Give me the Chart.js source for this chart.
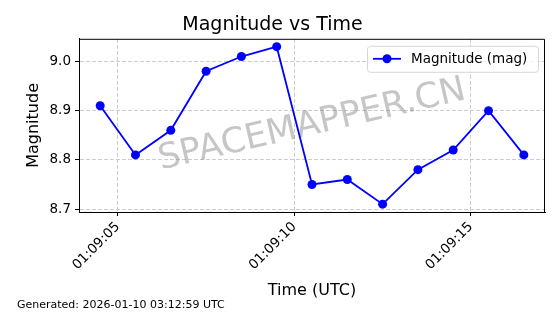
<!DOCTYPE html>
<html>
<head>
<meta charset="utf-8">
<script src="https://cdn.jsdelivr.net/npm/chart.js@4"></script>
<style>
  body { margin: 0; background: #fff; }
  canvas { display: block; }
</style>
</head>
<body>
<canvas id="magChart" width="560" height="314"></canvas>
<script>
// data: seconds after 01:09:00 UTC and magnitudes
const timeSeconds = [4.5, 5.5, 6.5, 7.5, 8.5, 9.5, 10.5, 11.5, 12.5, 13.5, 14.5, 15.5, 16.5];
const magnitudes = [8.91, 8.81, 8.86, 8.98, 9.01, 9.03, 8.75, 8.76, 8.71, 8.78, 8.82, 8.90, 8.81];
const xTickValues = [5, 10, 15];
const xTickLabels = ['01:09:05', '01:09:10', '01:09:15'];
const yTickValues = [8.7, 8.8, 8.9, 9.0];

const FONT = "'DejaVu Sans', sans-serif";
const BLUE = '#0000ff';

// frame, watermark, legend, footnote
const extras = {
    id: 'extras',
    beforeDatasetsDraw(chart) {
        const { ctx, chartArea: a } = chart;
        ctx.save();
        ctx.translate((a.left + a.right) / 2, (a.top + a.bottom) / 2);
        ctx.rotate(-13 * Math.PI / 180);
        ctx.font = '35px ' + FONT;
        ctx.fillStyle = 'rgba(128,128,128,0.45)';
        ctx.textAlign = 'center';
        ctx.textBaseline = 'middle';
        ctx.fillText('SPACEMAPPER.CN', 0, 0);
        ctx.restore();
    },
    afterDraw(chart) {
        const { ctx, chartArea: a } = chart;
        ctx.save();
        // top and right spines
        ctx.strokeStyle = '#000';
        ctx.lineWidth = 1;
        ctx.beginPath();
        ctx.moveTo(a.left, a.top + 0.5);
        ctx.lineTo(a.right - 0.5, a.top + 0.5);
        ctx.lineTo(a.right - 0.5, a.bottom);
        ctx.stroke();

        // legend
        const w = 171, h = 26;
        const lx = a.right - w - 7, ly = a.top + 7;
        ctx.beginPath();
        ctx.roundRect(lx + 0.5, ly + 0.5, w, h, 3);
        ctx.fillStyle = 'rgba(255,255,255,0.8)';
        ctx.fill();
        ctx.strokeStyle = '#d6d6d6';
        ctx.stroke();
        const my = ly + h / 2;
        ctx.strokeStyle = BLUE;
        ctx.lineWidth = 1.8;
        ctx.beginPath();
        ctx.moveTo(lx + 6, my);
        ctx.lineTo(lx + 34, my);
        ctx.stroke();
        ctx.fillStyle = BLUE;
        ctx.beginPath();
        ctx.arc(lx + 20, my, 4.5, 0, Math.PI * 2);
        ctx.fill();
        ctx.fillStyle = '#000';
        ctx.font = '13.5px ' + FONT;
        ctx.textBaseline = 'middle';
        ctx.fillText('Magnitude (mag)', lx + 44, my + 1);

        // footnote
        ctx.font = '11px ' + FONT;
        ctx.fillText('Generated: 2026-01-10 03:12:59 UTC', 17, 305);
        ctx.restore();
    }
};

new Chart(document.getElementById('magChart'), {
    type: 'line',
    data: {
        datasets: [{
            label: 'Magnitude (mag)',
            data: timeSeconds.map((t, i) => ({ x: t, y: magnitudes[i] })),
            borderColor: BLUE,
            backgroundColor: BLUE,
            borderWidth: 1.8,
            pointRadius: 4.5,
            pointHoverRadius: 4.5,
            pointBorderWidth: 0,
            tension: 0
        }]
    },
    options: {
        responsive: false,
        animation: false,
        layout: { padding: { left: 0, right: 15, top: 0, bottom: 14 } },
        plugins: {
            legend: { display: false },
            tooltip: { enabled: false },
            title: {
                display: true,
                text: 'Magnitude vs Time',
                color: '#000',
                font: { family: FONT, size: 19, weight: 'normal' },
                padding: { top: 14, bottom: 2 }
            }
        },
        scales: {
            x: {
                type: 'linear',
                min: 3.9,
                max: 17.1,
                afterBuildTicks: s => { s.ticks = xTickValues.map(v => ({ value: v })); },
                afterFit: s => { s.height = 88; },
                ticks: {
                    color: '#000',
                    font: { family: FONT, size: 13.5 },
                    maxRotation: 45,
                    minRotation: 45,
                    padding: 3,
                    callback: v => xTickLabels[xTickValues.indexOf(v)]
                },
                grid: { color: '#cccccc', tickColor: '#000', tickLength: 4, tickBorderDash: [] },
                border: { color: '#000', dash: [4, 2] },
                title: {
                    display: true,
                    text: 'Time (UTC)',
                    color: '#000',
                    font: { family: FONT, size: 16 },
                    padding: { top: 0, bottom: 0 }
                }
            },
            y: {
                min: 8.694,
                max: 9.046,
                afterBuildTicks: s => { s.ticks = yTickValues.map(v => ({ value: v })); },
                afterFit: s => { s.width = 79; },
                ticks: {
                    color: '#000',
                    font: { family: FONT, size: 13.5 },
                    padding: 4,
                    callback: v => v.toFixed(1)
                },
                grid: { color: '#cccccc', tickColor: '#000', tickLength: 4, tickBorderDash: [] },
                border: { color: '#000', dash: [4, 2] },
                title: {
                    display: true,
                    text: 'Magnitude',
                    color: '#000',
                    font: { family: FONT, size: 16 },
                    padding: { top: 24, bottom: 0 }
                }
            }
        }
    },
    plugins: [extras]
});
</script>
</body>
</html>
